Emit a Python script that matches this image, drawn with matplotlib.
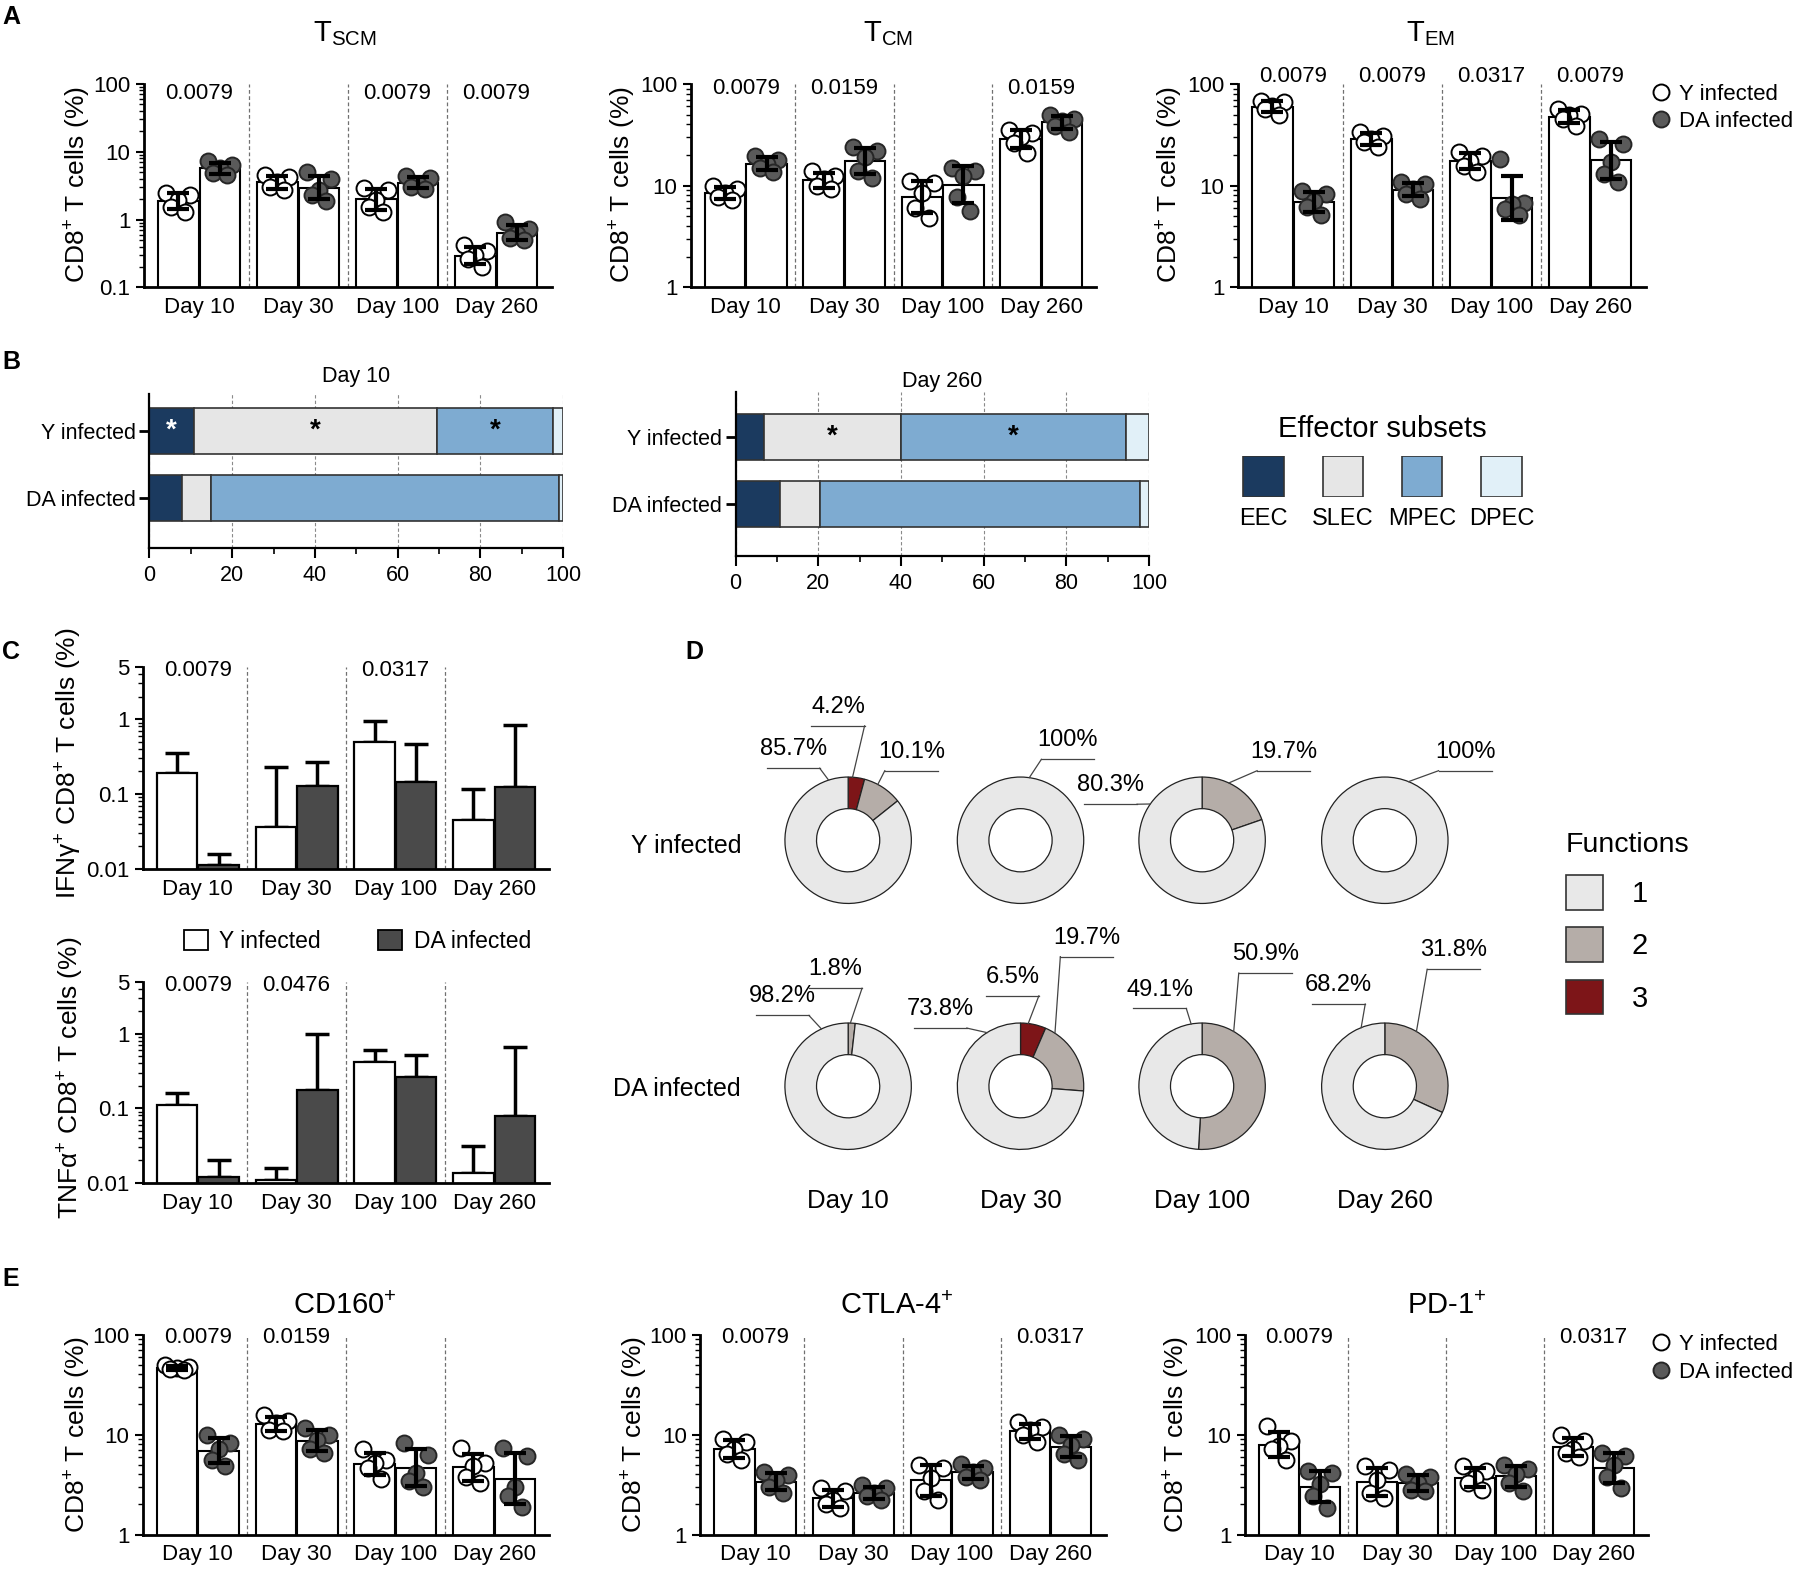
'''Multi-panel figure: CD8 T cell subsets after Y vs DA infection.'''

import numpy as np
import matplotlib
matplotlib.use("Agg")
import matplotlib.pyplot as plt
from matplotlib.lines import Line2D
from matplotlib.patches import Patch
from matplotlib.ticker import NullFormatter

plt.rcParams['font.family'] = ['Liberation Sans', 'DejaVu Sans']
plt.rcParams['mathtext.fontset'] = 'custom'
plt.rcParams['mathtext.rm'] = 'Liberation Sans'
plt.rcParams['mathtext.it'] = 'Liberation Sans:italic'
plt.rcParams['mathtext.bf'] = 'Liberation Sans:bold'

days = ['Day 10', 'Day 30', 'Day 100', 'Day 260']
groups = ['Y infected', 'DA infected']

# ---- A: memory subsets (% of CD8+ T cells), 5 mice per group and day
tscm_y = [[2.5, 2.3, 1.95, 1.55, 1.3], [4.5, 4.2, 3.6, 3.0, 2.7],
          [2.9, 2.7, 1.95, 1.55, 1.3], [0.42, 0.34, 0.3, 0.26, 0.2]]
tscm_da = [[7.2, 6.4, 5.8, 4.9, 4.5], [5.0, 3.9, 2.7, 2.3, 1.9],
           [4.4, 4.1, 3.4, 3.0, 2.8], [0.92, 0.72, 0.62, 0.53, 0.5]]
tscm_p = ['0.0079', '', '0.0079', '0.0079']

tcm_y = [[10, 9.3, 8.5, 7.7, 7.2], [14, 12.5, 11.5, 10, 9.2],
         [11, 10.5, 8.5, 6, 4.8], [35, 33, 30, 26, 21]]
tcm_da = [[19.5, 18, 16.5, 15, 13.5], [24, 22, 19, 14, 12],
          [15, 14, 12.5, 7.7, 5.6], [49, 45.5, 43, 39, 34]]
tcm_p = ['0.0079', '0.0159', '', '0.0159']

tem_y = [[68, 66, 61, 57, 49], [33.5, 31, 28.7, 26.6, 23.8],
         [21.3, 19.7, 17.6, 15.7, 13.5], [57, 51, 49, 45, 39]]
tem_da = [[8.9, 8.3, 7.1, 6.1, 5.1], [10.8, 10.4, 9.3, 8.3, 7.4],
          [18.3, 6.8, 6.6, 5.9, 5.2], [28.7, 25.6, 17, 13, 10.8]]
tem_p = ['0.0079', '0.0079', '0.0317', '0.0079']

# ---- B: effector subsets (% of cells)
subsets = ['EEC', 'SLEC', 'MPEC', 'DPEC']
d10_y = [10.8, 58.7, 28.1, 2.4]
d10_da = [8.0, 6.8, 84.1, 1.1]
d10_sig = [True, True, True, False]
d260_y = [6.9, 33.1, 54.4, 5.6]
d260_da = [10.8, 9.7, 77.3, 2.2]
d260_sig = [False, True, True, False]

# ---- C: cytokine producing cells, mean and SD
ifng_y_mean = [0.19, 0.036, 0.5, 0.045]
ifng_y_sd = [0.16, 0.19, 0.44, 0.07]
ifng_da_mean = [0.0112, 0.128, 0.143, 0.125]
ifng_da_sd = [0.0046, 0.136, 0.32, 0.70]
ifng_p = ['0.0079', '', '0.0317', '']

tnfa_y_mean = [0.109, 0.011, 0.42, 0.0136]
tnfa_y_sd = [0.051, 0.005, 0.176, 0.018]
tnfa_da_mean = [0.0119, 0.177, 0.262, 0.078]
tnfa_da_sd = [0.0085, 0.82, 0.26, 0.59]
tnfa_p = ['0.0079', '0.0476', '', '']

# ---- D: number of functions (% for 1, 2, 3 functions)
functions = ['1', '2', '3']
func_y = [[85.7, 10.1, 4.2], [100, 0, 0], [80.3, 19.7, 0], [100, 0, 0]]
func_da = [[98.2, 1.8, 0], [73.8, 19.7, 6.5], [49.1, 50.9, 0], [68.2, 31.8, 0]]

# ---- E: inhibitory receptors (% of CD8+ T cells)
cd160_y = [[49, 47, 46, 45, 44], [15.8, 13.6, 13.1, 11.2, 10.8],
           [7.1, 5.6, 5.2, 4.6, 3.6], [7.4, 5.2, 4.8, 3.8, 3.3]]
cd160_da = [[10, 8.3, 7.1, 5.6, 4.8], [11.7, 10, 8.9, 7.1, 6.6],
            [8.3, 6.3, 4.1, 3.4, 3.0], [7.4, 6.1, 3.0, 2.4, 1.9]]
cd160_p = ['0.0079', '0.0159', '', '']

ctla4_y = [[9.1, 8.4, 7.2, 6.4, 5.5], [2.9, 2.7, 2.2, 2.0, 1.85],
           [5.0, 4.6, 3.7, 2.7, 2.2], [13.3, 11.9, 11.0, 9.8, 8.4]]
ctla4_da = [[4.2, 3.9, 3.5, 3.0, 2.6], [3.1, 2.9, 2.6, 2.4, 2.2],
            [5.1, 4.6, 4.2, 3.8, 3.5], [9.8, 9.1, 7.8, 6.4, 5.5]]
ctla4_p = ['0.0079', '', '', '0.0317']

pd1_y = [[12.1, 8.6, 7.6, 7.1, 5.6], [4.8, 4.4, 3.5, 2.6, 2.3],
         [4.8, 4.3, 3.7, 3.3, 2.8], [10, 8.6, 7.1, 6.6, 5.9]]
pd1_da = [[4.3, 4.1, 3.2, 2.4, 1.85], [4.0, 3.8, 3.3, 2.8, 2.7],
          [5.0, 4.5, 4.0, 3.3, 2.7], [6.6, 6.1, 4.9, 3.8, 2.9]]
pd1_p = ['0.0079', '', '', '0.0317']

subset_colors = ['#1b3a5f', '#e6e6e6', '#7eabd1', '#e1f0f8']
func_colors = ['#e8e8e8', '#b5ada8', '#7d1518']

W, H = 1568.0, 1365.0
fig = plt.figure(figsize=(18.02, 15.69), dpi=100)


def box(l, t, r, b):
    return fig.add_axes([l / W, 1 - b / H, (r - l) / W, (b - t) / H])


def ftext(x, y, s, **kw):
    kw.setdefault('ha', 'center')
    kw.setdefault('va', 'center')
    return fig.text(x / W, 1 - y / H, s, **kw)


def base_axes(ax):
    for side in ['top', 'right']:
        ax.spines[side].set_visible(False)
    ax.spines['left'].set_linewidth(2)
    ax.spines['bottom'].set_linewidth(2)
    ax.tick_params(axis='y', which='major', length=6, width=1.5, labelsize=16)
    ax.tick_params(axis='y', which='minor', length=3.5, width=1)
    ax.yaxis.set_minor_formatter(NullFormatter())
    x = np.arange(len(days))
    ax.set_xticks(x, days)
    ax.tick_params(axis='x', length=0, pad=7, labelsize=16)
    ax.set_xlim(-0.56, 3.56)
    for d in x[:-1] + 0.5:
        ax.axvline(d, color='#707070', lw=0.9, ls=(0, (3, 2)), zorder=0)


def add_p(ax, pvals, p_y):
    for i, p in enumerate(pvals):
        if p:
            ax.text(i, p_y, p, transform=ax.get_xaxis_transform(),
                    ha='center', va='center', fontsize=16)


jitter = [-0.12, 0.12, 0.0, -0.07, 0.07]


def dot_panel(ax, y_vals, da_vals, pvals, ticks, p_y):
    x = np.arange(len(days))
    ax.set_yscale('log')
    for vals, off, face, edge in [(y_vals, -0.21, 'white', 'black'),
                                  (da_vals, 0.21, '#5a5a5a', '#262626')]:
        logv = np.log(np.array(vals))
        gm = np.exp(logv.mean(axis=1))
        gsd = np.exp(logv.std(axis=1, ddof=1))
        ax.bar(x + off, gm, width=0.41, color='white', edgecolor='black',
               lw=1.5, zorder=1)
        for i, v in enumerate(vals):
            order = np.argsort(v)[::-1]
            xs = np.empty(len(v))
            xs[order] = jitter[:len(v)]
            ax.plot(x[i] + off + xs, v, 'o', ms=11.5, mfc=face, mec=edge,
                    mew=1.4, zorder=3, clip_on=False)
        ax.errorbar(x + off, gm, yerr=[gm - gm / gsd, gm * gsd - gm],
                    fmt='none', ecolor='black', elinewidth=3, capsize=8,
                    capthick=3, zorder=4)
    ax.set_ylim(ticks[0], ticks[-1])
    ax.set_yticks(ticks, [f'{t:g}' for t in ticks])
    base_axes(ax)
    add_p(ax, pvals, p_y)


def cyto_panel(ax, ym, ys, dm, ds, pvals, ticks):
    x = np.arange(len(days))
    ax.set_yscale('log')
    for m, s, off, face in [(ym, ys, -0.21, 'white'), (dm, ds, 0.21, '#4a4a4a')]:
        ax.bar(x + off, m, width=0.41, color=face, edgecolor='black', lw=1.6,
               zorder=2)
        ax.errorbar(x + off, m, yerr=[np.zeros(len(m)), s], fmt='none',
                    ecolor='black', elinewidth=2.5, capsize=8.5, capthick=2.5,
                    zorder=1)
    ax.set_ylim(ticks[0], ticks[-1])
    ax.set_yticks(ticks, [f'{t:g}' for t in ticks])
    base_axes(ax)
    add_p(ax, pvals, 0.983)


def subset_panel(ax, y_vals, da_vals, sig, title, ylim, title_pad):
    rows = [1, 0]
    ax.set_axisbelow(True)
    ax.grid(axis='x', color='#8a8a8a', lw=0.8, ls=(0, (3, 2)))
    for row, vals in zip(rows, [y_vals, da_vals]):
        lefts = np.concatenate([[0], np.cumsum(vals)[:-1]])
        ax.barh([row] * len(vals), vals, left=lefts, height=0.69,
                color=subset_colors, edgecolor='#333333', lw=1.2, zorder=2)
        if row == 1:
            for k, s in enumerate(sig):
                if s:
                    ax.text(lefts[k] + vals[k] / 2, row, '*', ha='center',
                            va='center', fontsize=20, fontweight='bold',
                            color='white' if k == 0 else 'black', zorder=3)
    ax.set_xlim(0, 100)
    ax.set_ylim(*ylim)
    ax.set_xticks(np.arange(0, 101, 20))
    ax.set_xticks(np.arange(10, 100, 20), minor=True)
    ax.set_yticks(rows, groups)
    for side in ['top', 'right']:
        ax.spines[side].set_visible(False)
    ax.spines['left'].set_linewidth(1.6)
    ax.spines['bottom'].set_linewidth(1.6)
    ax.tick_params(axis='x', which='major', length=7, width=1.5, labelsize=15.5, pad=5)
    ax.tick_params(axis='x', which='minor', length=4, width=1.2)
    ax.tick_params(axis='y', length=7, width=2, labelsize=15.5, pad=3)
    ax.set_title(title, fontsize=15.5, pad=title_pad)


def donut(cx, cy, vals, callouts):
    r = 55
    half = 2.4 * r
    ax = box(cx - half, cy - half, cx + half, cy + half)
    ax.pie(vals[::-1], colors=func_colors[::-1], startangle=90,
           counterclock=False, radius=1,
           wedgeprops=dict(width=0.5, edgecolor='#222222', linewidth=0.9))
    ax.set_xlim(-2.4, 2.4)
    ax.set_ylim(-2.4, 2.4)
    ax.set_aspect('equal')
    ax.axis('off')
    ax.patch.set_visible(False)
    for idx, tx, ty, side, ang in callouts:
        ax.text(tx, ty, f'{vals[idx]:g}%', ha='center', va='center', fontsize=17)
        uy = ty - 0.3
        ax.plot([tx - 0.42, tx + 0.42], [uy, uy], color='#444444', lw=0.9)
        a = np.deg2rad(ang)
        ax.plot([tx + side * 0.42, np.cos(a)], [uy, np.sin(a)],
                color='#444444', lw=0.9)


# ================= A
ax_tscm = box(125, 73, 480, 250)
dot_panel(ax_tscm, tscm_y, tscm_da, tscm_p, [0.1, 1, 10, 100], 0.955)
ax_tcm = box(601, 73, 954, 250)
dot_panel(ax_tcm, tcm_y, tcm_da, tcm_p, [1, 10, 100], 0.975)
ax_tem = box(1077, 73, 1432, 250)
dot_panel(ax_tem, tem_y, tem_da, tem_p, [1, 10, 100], 1.035)

ylab = r'CD8$^{+}$ T cells (%)'
for x in [68, 542, 1018]:
    ftext(x, 161, ylab, rotation=90, fontsize=19)
ftext(300, 29, r'$\mathregular{T_{SCM}}$', fontsize=21)
ftext(773, 29, r'$\mathregular{T_{CM}}$', fontsize=21)
ftext(1245, 29, r'$\mathregular{T_{EM}}$', fontsize=21)

dot_handles = [Line2D([], [], marker='o', ls='', ms=11.5, mfc='white', mec='black', mew=1.4),
               Line2D([], [], marker='o', ls='', ms=11.5, mfc='#5a5a5a', mec='#262626', mew=1.4)]
fig.legend(dot_handles, groups, loc='upper left', bbox_to_anchor=(1428 / W, 1 - 63 / H),
           frameon=False, fontsize=16, handlelength=0.8, handletextpad=0.4,
           labelspacing=0.3, borderpad=0)

# ================= B
ax_b1 = box(130, 343, 490, 477)
subset_panel(ax_b1, d10_y, d10_da, d10_sig, 'Day 10', (-0.76, 1.55), 9)
ax_b2 = box(640, 341, 1000, 484)
subset_panel(ax_b2, d260_y, d260_da, d260_sig, 'Day 260', (-0.78, 1.67), 3)

ax_leg = box(1065, 397, 1341, 432)
ax_leg.bar(np.arange(len(subsets)), np.ones(len(subsets)), width=0.51,
           color=subset_colors, edgecolor='#333333', lw=1.2)
ax_leg.set_xlim(-0.5, 3.5)
ax_leg.set_ylim(0, 1)
ax_leg.set_xticks(np.arange(len(subsets)), subsets)
ax_leg.set_yticks([])
ax_leg.tick_params(axis='x', length=0, labelsize=17, pad=8)
for s in ax_leg.spines.values():
    s.set_visible(False)
ax_leg.patch.set_visible(False)
ax_leg.set_title('Effector subsets', fontsize=21, pad=14)

# ================= C
ax_ifn = box(124, 580, 478, 756)
cyto_panel(ax_ifn, ifng_y_mean, ifng_y_sd, ifng_da_mean, ifng_da_sd, ifng_p,
           [0.01, 0.1, 1, 5])
ax_tnf = box(124, 854, 478, 1029)
cyto_panel(ax_tnf, tnfa_y_mean, tnfa_y_sd, tnfa_da_mean, tnfa_da_sd, tnfa_p,
           [0.01, 0.1, 1, 5])
ftext(60, 664, r'IFNγ$^{+}$ CD8$^{+}$ T cells (%)', rotation=90, fontsize=19)
ftext(62, 938, r'TNFα$^{+}$ CD8$^{+}$ T cells (%)', rotation=90, fontsize=19)

bar_handles = [Patch(facecolor='white', edgecolor='black', lw=1.3),
               Patch(facecolor='#4a4a4a', edgecolor='black', lw=1.3)]
fig.legend(bar_handles, groups, loc='center left', bbox_to_anchor=(150 / W, 1 - 819 / H),
           ncol=2, frameon=False, fontsize=16.5, handlelength=1.05, handleheight=0.9,
           handletextpad=0.5, columnspacing=2.5, borderpad=0)

# ================= D
cx_list = [738, 888, 1046, 1205]
callouts_y = [
    [(0, -0.87, 1.44, 1, 108), (2, -0.16, 2.11, 1, 86), (1, 1.0, 1.4, -1, 62)],
    [(0, 0.75, 1.58, -1, 82)],
    [(0, -1.45, 0.87, 1, 145), (1, 1.29, 1.4, -1, 65)],
    [(0, 1.27, 1.4, -1, 68)],
]
callouts_da = [
    [(0, -1.04, 1.42, 1, 115), (1, -0.2, 1.85, 1, 88)],
    [(0, -1.27, 1.22, 1, 122), (2, -0.13, 1.73, 1, 83), (1, 1.05, 2.35, -1, 57)],
    [(0, -0.67, 1.53, 1, 100), (1, 1.0, 2.09, -1, 60)],
    [(0, -0.73, 1.6, 1, 112), (1, 1.09, 2.15, -1, 60)],
]
for i in range(len(days)):
    donut(cx_list[i], 731, func_y[i], callouts_y[i])
    donut(cx_list[i], 945, func_da[i], callouts_da[i])
    ftext(cx_list[i], 1045, days[i], fontsize=18.5)
ftext(597, 736, groups[0], fontsize=18)
ftext(589, 947, groups[1], fontsize=18)

func_handles = [Patch(facecolor=c, edgecolor='#333333', lw=1.2) for c in func_colors]
fig.legend(func_handles, functions, loc='upper left', bbox_to_anchor=(1350 / W, 1 - 711 / H),
           frameon=False, fontsize=21, title='Functions', title_fontsize=20.5,
           alignment='left', handlelength=1.25, handleheight=1.45,
           handletextpad=1.0, labelspacing=0.6, borderpad=0)

# ================= E
ax_cd160 = box(124, 1161, 478, 1335)
dot_panel(ax_cd160, cd160_y, cd160_da, cd160_p, [1, 10, 100], 0.985)
ax_ctla = box(609, 1161, 962, 1335)
dot_panel(ax_ctla, ctla4_y, ctla4_da, ctla4_p, [1, 10, 100], 0.985)
ax_pd1 = box(1083, 1161, 1434, 1335)
dot_panel(ax_pd1, pd1_y, pd1_da, pd1_p, [1, 10, 100], 0.985)
for x in [68, 552, 1024]:
    ftext(x, 1248, ylab, rotation=90, fontsize=19)
ftext(300, 1136, r'CD160$^{+}$', fontsize=21)
ftext(780, 1136, r'CTLA-4$^{+}$', fontsize=21)
ftext(1259, 1136, r'PD-1$^{+}$', fontsize=21)
fig.legend(dot_handles, groups, loc='upper left', bbox_to_anchor=(1428 / W, 1 - 1151 / H),
           frameon=False, fontsize=16, handlelength=0.8, handletextpad=0.4,
           labelspacing=0.3, borderpad=0)

# panel letters
for letter, x, y in [('A', 2, 15), ('B', 2, 315), ('C', 2, 567), ('D', 596, 567), ('E', 2, 1113)]:
    ftext(x, y, letter, ha='left', fontsize=18, fontweight='bold')

fig.savefig('out.png', dpi=100)
